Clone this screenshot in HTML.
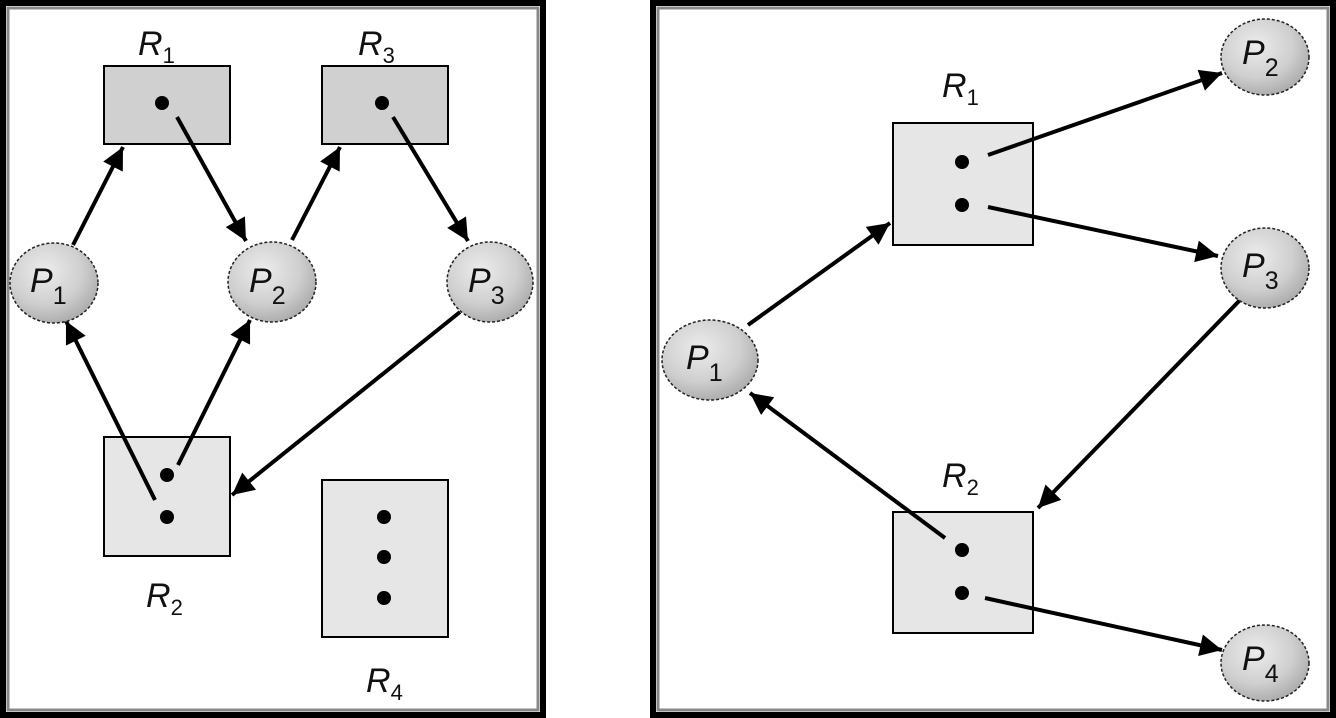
<!DOCTYPE html>
<html><head><meta charset="utf-8"><style>
html,body{margin:0;padding:0;background:#fff;width:1336px;height:718px;overflow:hidden}
svg{display:block}
text{font-family:"Liberation Sans",sans-serif;font-style:italic;fill:#111}
</style></head><body>
<svg width="1336" height="718" viewBox="0 0 1336 718">
<defs>
<radialGradient id="g" cx="0.4" cy="0.35" r="0.7">
<stop offset="0" stop-color="#ececec"/><stop offset="0.6" stop-color="#cfcfcf"/><stop offset="1" stop-color="#a8a8a8"/>
</radialGradient>
<marker id="a" viewBox="0 0 10 10" refX="10" refY="5" markerWidth="6" markerHeight="5.5" orient="auto" markerUnits="strokeWidth">
<path d="M0,0 L10,5 L0,10 z" fill="#000"/></marker>
</defs>
<rect x="3" y="3" width="540" height="712" fill="none" stroke="#000" stroke-width="6"/>
<rect x="8" y="8" width="530" height="702" fill="none" stroke="#888" stroke-width="3"/>
<rect x="653" y="3" width="680" height="712" fill="none" stroke="#000" stroke-width="6"/>
<rect x="658" y="8" width="670" height="702" fill="none" stroke="#888" stroke-width="3"/>

<g stroke="#000" stroke-width="2">
<rect x="104" y="66" width="126" height="78" fill="#d0d0d0"/>
<rect x="322" y="66" width="126" height="78" fill="#d0d0d0"/>
<rect x="104" y="437" width="126" height="119" fill="#e6e6e6"/>
<rect x="322" y="480" width="126" height="157" fill="#e6e6e6"/>
<rect x="893" y="123" width="140" height="122" fill="#e6e6e6"/>
<rect x="893" y="512" width="140" height="121" fill="#e6e6e6"/>
</g>
<g stroke="#000" stroke-width="4" fill="none">
<line x1="73" y1="245" x2="123" y2="147" marker-end="url(#a)"/>
<line x1="177" y1="117" x2="246" y2="241" marker-end="url(#a)"/>
<line x1="292" y1="240" x2="340" y2="147" marker-end="url(#a)"/>
<line x1="393" y1="117" x2="468" y2="241" marker-end="url(#a)"/>
<line x1="460" y1="312" x2="232" y2="495" marker-end="url(#a)"/>
<line x1="155" y1="500" x2="66" y2="321" marker-end="url(#a)"/>
<line x1="178" y1="465" x2="250" y2="320" marker-end="url(#a)"/>
<line x1="988" y1="155" x2="1222" y2="73" marker-end="url(#a)"/>
<line x1="988" y1="207" x2="1218" y2="256" marker-end="url(#a)"/>
<line x1="748" y1="325" x2="890" y2="223" marker-end="url(#a)"/>
<line x1="1242" y1="298" x2="1038" y2="508" marker-end="url(#a)"/>
<line x1="945" y1="538" x2="750" y2="393" marker-end="url(#a)"/>
<line x1="985" y1="598" x2="1222" y2="650" marker-end="url(#a)"/>
</g>
<g fill="#000">
<circle cx="162" cy="103" r="7"/><circle cx="382" cy="103" r="7"/>
<circle cx="167" cy="475" r="7"/><circle cx="167" cy="517" r="7"/>
<circle cx="384" cy="517" r="7"/><circle cx="384" cy="557" r="7"/><circle cx="384" cy="598" r="7"/>
<circle cx="962" cy="162" r="7"/><circle cx="962" cy="205" r="7"/>
<circle cx="962" cy="550" r="7"/><circle cx="962" cy="593" r="7"/>
</g>
<g fill="url(#g)" stroke="#222" stroke-width="1.5" stroke-dasharray="3,2">
<ellipse cx="54" cy="283" rx="44" ry="40"/>
<ellipse cx="272" cy="282" rx="44" ry="40"/>
<ellipse cx="490" cy="282" rx="43" ry="40"/>
<ellipse cx="710" cy="360" rx="48" ry="40"/>
<ellipse cx="1265" cy="57" rx="44" ry="38"/>
<ellipse cx="1265" cy="268" rx="44" ry="40"/>
<ellipse cx="1265" cy="663" rx="44" ry="38"/>
</g>
<g font-size="34">
<text x="138" y="55">R<tspan font-size="22" dy="8" font-style="normal">1</tspan></text>
<text x="358" y="55">R<tspan font-size="22" dy="8" font-style="normal">3</tspan></text>
<text x="146" y="607">R<tspan font-size="22" dy="8" font-style="normal">2</tspan></text>
<text x="366" y="692">R<tspan font-size="22" dy="8" font-style="normal">4</tspan></text>
<text x="942" y="97">R<tspan font-size="22" dy="8" font-style="normal">1</tspan></text>
<text x="942" y="487">R<tspan font-size="22" dy="8" font-style="normal">2</tspan></text>
<text x="30" y="292">P<tspan font-size="25" dy="12" font-style="normal">1</tspan></text>
<text x="249" y="292">P<tspan font-size="25" dy="12" font-style="normal">2</tspan></text>
<text x="468" y="292">P<tspan font-size="25" dy="12" font-style="normal">3</tspan></text>
<text x="686" y="369">P<tspan font-size="25" dy="12" font-style="normal">1</tspan></text>
<text x="1242" y="64">P<tspan font-size="25" dy="12" font-style="normal">2</tspan></text>
<text x="1242" y="277">P<tspan font-size="25" dy="12" font-style="normal">3</tspan></text>
<text x="1242" y="670">P<tspan font-size="25" dy="12" font-style="normal">4</tspan></text>
</g>
</svg>
</body></html>
